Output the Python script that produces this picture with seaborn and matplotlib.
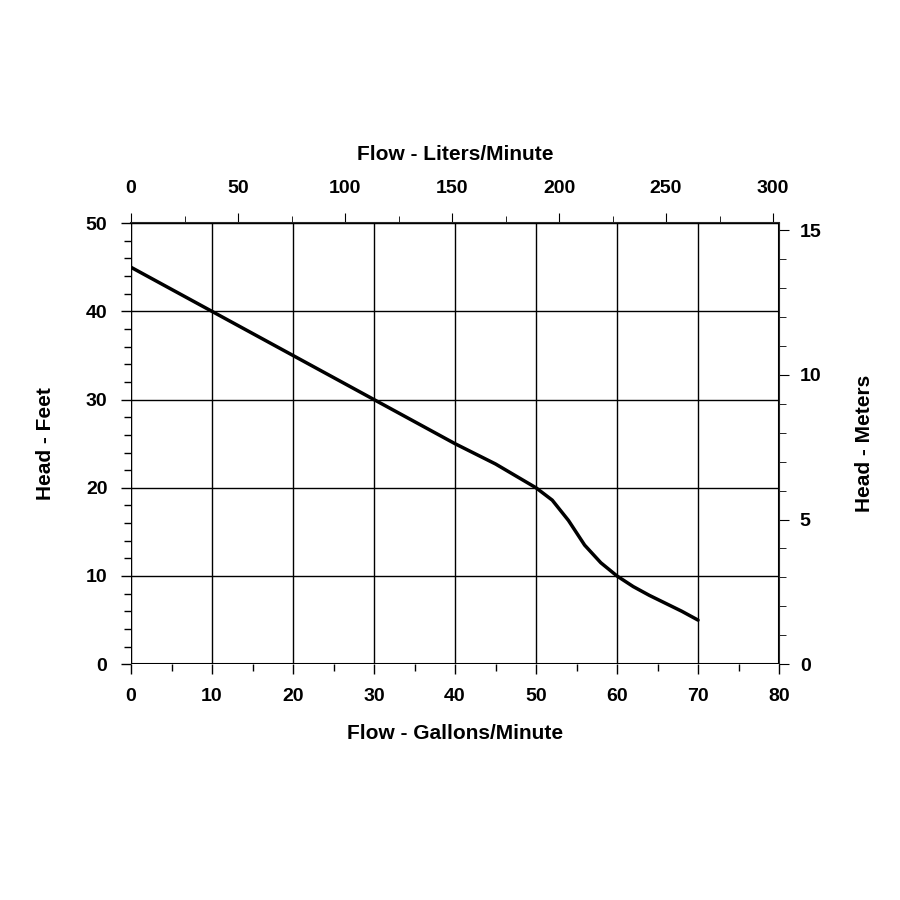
import matplotlib
matplotlib.use("Agg")
import matplotlib.pyplot as plt
import seaborn as sns
import pandas as pd
from matplotlib.ticker import MultipleLocator

flow_gpm = [0, 10, 20, 30, 40, 45, 50, 52, 54, 56, 58, 60, 62, 64, 66, 68, 70]
head_ft = [45, 40, 35, 30, 25, 22.7, 20, 18.6, 16.3, 13.5, 11.5, 10, 8.8, 7.8, 6.9, 6.0, 5]

GAL_TO_L = 3.785
FT_TO_M = 0.3048

sns.set_style("white")
plt.rcParams["font.family"] = ["Liberation Sans", "DejaVu Sans"]
plt.rcParams.update({"text.color": "black", "axes.labelcolor": "black",
                     "xtick.color": "black", "ytick.color": "black"})

fig = plt.figure(figsize=(9, 9), dpi=100)
ax = fig.add_axes([0.1456, 0.262, 0.72, 0.49])

df = pd.DataFrame({"gpm": flow_gpm, "ft": head_ft})
sns.lineplot(data=df, x="gpm", y="ft", ax=ax, color="black", linewidth=2.5)

ax.set_xlim(0, 80)
ax.set_ylim(0, 50)
ax.xaxis.set_major_locator(MultipleLocator(10))
ax.xaxis.set_minor_locator(MultipleLocator(5))
ax.yaxis.set_major_locator(MultipleLocator(10))
ax.yaxis.set_minor_locator(MultipleLocator(2))
ax.grid(True, which="major", color="black", linewidth=1)
for s in ax.spines.values():
    s.set_visible(False)
ax.tick_params(which="both", direction="out", color="black", width=1,
               left=True, bottom=True)
ax.tick_params(which="major", length=7, labelsize=14, pad=10)
ax.tick_params(which="minor", length=5)
for lab in ax.get_xticklabels() + ax.get_yticklabels():
    lab.set_fontweight("bold")
ax.set_xlabel("Flow - Gallons/Minute", fontsize=15, fontweight="bold", labelpad=14)
ax.set_ylabel("Head - Feet", fontsize=15, fontweight="bold", labelpad=22)

top = ax.secondary_xaxis("top", functions=(lambda x: x * GAL_TO_L, lambda x: x / GAL_TO_L))
top.xaxis.set_major_locator(MultipleLocator(50))
top.xaxis.set_minor_locator(MultipleLocator(25))
top.tick_params(which="both", direction="out", top=True)
top.tick_params(which="major", length=7, labelsize=14, pad=12)
top.tick_params(which="minor", length=5)
top.spines["top"].set_linewidth(1.5)
for lab in top.get_xticklabels():
    lab.set_fontweight("bold")
top.set_xlabel("Flow - Liters/Minute", fontsize=15, fontweight="bold", labelpad=14)

right = ax.secondary_yaxis("right", functions=(lambda y: y * FT_TO_M, lambda y: y / FT_TO_M))
right.yaxis.set_major_locator(MultipleLocator(5))
right.yaxis.set_minor_locator(MultipleLocator(1))
right.tick_params(which="both", direction="out", right=True)
right.tick_params(which="major", length=7, labelsize=14, pad=8)
right.tick_params(which="minor", length=5)
for lab in right.get_yticklabels():
    lab.set_fontweight("bold")
right.set_ylabel("Head - Meters", fontsize=15, fontweight="bold", labelpad=24)

ax.axhline(0, color="black", linewidth=1.5)
ax.axvline(0, color="black", linewidth=1.5)
ax.axvline(80, color="black", linewidth=1.5)

fig.savefig("out.png", dpi=100, facecolor="white")
